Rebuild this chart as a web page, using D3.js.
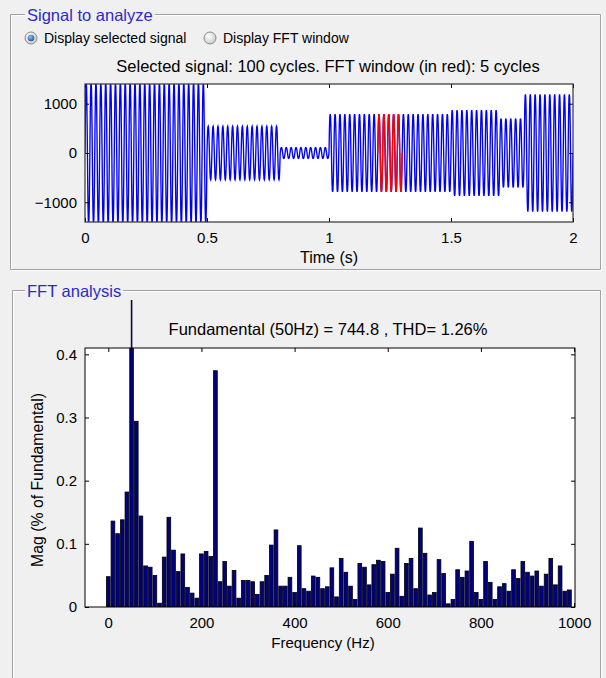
<!DOCTYPE html>
<html><head><meta charset="utf-8">
<script src="https://cdn.jsdelivr.net/npm/d3@7/dist/d3.min.js"></script>
<style>
html,body{margin:0;padding:0;background:#f0f0f0;}
svg{display:block;font-family:"Liberation Sans",Arial,sans-serif;}
</style></head>
<body>
<svg id="chart" width="606" height="678"></svg>
<script>
// ---------------- DATA ----------------
const signalTitle = "Selected signal: 100 cycles. FFT window (in red): 5 cycles";
const fftTitle = "Fundamental (50Hz) = 744.8 , THD= 1.26%";
const timeTicks = [0, 0.5, 1, 1.5, 2];
const signalTicks = [-1000, 0, 1000];
const freqTicks = [0, 200, 400, 600, 800, 1000];
const magTicks = [0, 0.1, 0.2, 0.3, 0.4];
// one cycle of the waveform (normalised samples)
const cycleShape = [0, 0.45, 0.8, 0.97, 1, 0.95, 0.75, 0.4, 0, -0.45, -0.8, -0.97, -1, -0.95, -0.75, -0.4];
// peak value of each of the 100 cycles (50 Hz, 0..2 s)
const cyclePeaks = [
 1420,1420,1420,1420,1420,1420,1420,1420,1420,1420,1420,1420,1420,1420,1420,1420,1420,1420,1420,1420,1420,1420,1420,1420,1420,
 540,540,540,540,540,540,540,540,540,540,540,540,540,540,540,
 110,110,110,110,110,110,110,110,110,110,
 790,790,790,790,790,790,790,790,790,790,790,790,790,790,790,790,790,790,790,790,790,790,790,790,790,
 870,870,870,870,870,870,870,870,870,870,
 700,700,700,700,700,
 1190,1190,1190,1190,1190,1190,1190,1190,1190,1190
];
const fftWindowCycles = [60, 65]; // first cycle, end cycle (exclusive) shown in red
const cycleSeconds = [0.02];
// FFT bins (Hz) and magnitudes (% of fundamental)
const fftFreqs = [0,10,20,30,40,50,60,70,80,90,100,110,120,130,140,150,160,170,180,190,
 200,210,220,230,240,250,260,270,280,290,300,310,320,330,340,350,360,370,380,390,
 400,410,420,430,440,450,460,470,480,490,500,510,520,530,540,550,560,570,580,590,
 600,610,620,630,640,650,660,670,680,690,700,710,720,730,740,750,760,770,780,790,
 800,810,820,830,840,850,860,870,880,890,900,910,920,930,940,950,960,970,980,990];
const fftMags = [0.048,0.136,0.116,0.138,0.182,100,0.294,0.144,0.065,0.063,
 0.050,0.006,0.079,0.142,0.090,0.056,0.084,0.031,0.022,0.014,
 0.084,0.088,0.080,0.374,0.040,0.072,0.033,0.058,0.014,0.042,
 0.042,0.040,0.020,0.040,0.050,0.098,0.122,0.033,0.033,0.047,
 0.023,0.097,0.029,0.025,0.049,0.047,0.029,0.032,0.062,0.016,
 0.077,0.055,0.033,0.012,0.069,0.063,0.035,0.067,0.074,0.072,
 0.023,0.052,0.093,0.017,0.069,0.077,0.029,0.125,0.085,0.019,
 0.023,0.075,0.053,0.005,0.012,0.059,0.047,0.057,0.104,0.023,
 0.012,0.072,0.039,0.012,0.032,0.037,0.025,0.059,0.045,0.072,
 0.055,0.049,0.057,0.033,0.052,0.077,0.035,0.065,0.025,0.027];

// ---------------- DRAW ----------------
const svg = d3.select("#chart");
const FONT = 15;
const TFONT = 16.5;
const bg = "#f0f0f0";

function panel(x, y, w, h, title, titleX, openBottom) {
  const g = svg.append("g");
  const path = (dx) => {
    const p = d3.path();
    if (openBottom) {
      p.moveTo(x + dx, y + h); p.lineTo(x + dx, y + dx); p.lineTo(x + w + dx, y + dx); p.lineTo(x + w + dx, y + h);
    } else {
      p.rect(x + dx, y + dx, w, h);
    }
    return p.toString();
  };
  g.append("path").attr("d", path(1)).attr("fill", "none").attr("stroke", "#ffffff");
  g.append("path").attr("d", path(0)).attr("fill", "none").attr("stroke", "#a0a0a0");
  const t = g.append("text").attr("x", titleX).attr("y", y + 6)
    .attr("font-size", 16.5).attr("fill", "#2b2bc8").text(title);
  const bb = t.node().getBBox();
  g.insert("rect", "text").attr("x", bb.x - 2).attr("y", bb.y).attr("width", bb.width + 4)
    .attr("height", bb.height).attr("fill", bg);
}

panel(10.5, 14.5, 590, 255, "Signal to analyze", 27, false);
panel(12.5, 290.5, 588, 400, "FFT analysis", 27, true);

// radio buttons
const defs = svg.append("defs");
const rg = defs.append("radialGradient").attr("id", "rb").attr("cx", "40%").attr("cy", "35%").attr("r", "70%");
rg.append("stop").attr("offset", "0%").attr("stop-color", "#ffffff");
rg.append("stop").attr("offset", "100%").attr("stop-color", "#c8c8c8");
const dg = defs.append("radialGradient").attr("id", "rd").attr("cx", "40%").attr("cy", "35%").attr("r", "70%");
dg.append("stop").attr("offset", "0%").attr("stop-color", "#8fc8f0");
dg.append("stop").attr("offset", "100%").attr("stop-color", "#1a4f9a");
const radios = [{x: 31, label: "Display selected signal", on: true}, {x: 210, label: "Display FFT window", on: false}];
radios.forEach(r => {
  svg.append("circle").attr("cx", r.x).attr("cy", 38).attr("r", 6).attr("fill", "url(#rb)").attr("stroke", "#8a8a8a");
  if (r.on) svg.append("circle").attr("cx", r.x).attr("cy", 38).attr("r", 3.3).attr("fill", "url(#rd)");
  svg.append("text").attr("x", r.x + 13).attr("y", 43).attr("font-size", 14).attr("fill", "#000").text(r.label);
});

// ---------- signal plot ----------
const sx = d3.scaleLinear().domain([0, 2]).range([85, 573]);
const sy = d3.scaleLinear().domain([-1400, 1400]).range([222, 84]);

svg.append("text").attr("x", 328).attr("y", 72).attr("text-anchor", "middle").attr("font-size", TFONT).text(signalTitle);

svg.append("rect").attr("x", 85).attr("y", 84).attr("width", 488).attr("height", 138).attr("fill", "#fff");
defs.append("clipPath").attr("id", "clipS").append("rect").attr("x", 85).attr("y", 84).attr("width", 488).attr("height", 138);

const T = cycleSeconds[0];
function cyclePoints(c0, c1) {
  const pts = [];
  for (let c = c0; c < c1; c++) {
    cycleShape.forEach((v, k) => pts.push([(c + k / cycleShape.length) * T, v * cyclePeaks[c]]));
  }
  pts.push([c1 * T, cycleShape[0] * cyclePeaks[c1 - 1]]);
  return pts;
}
const line = d3.line().x(d => sx(d[0])).y(d => sy(d[1]));
const gs = svg.append("g").attr("clip-path", "url(#clipS)");
gs.append("path").attr("d", line(cyclePoints(0, cyclePeaks.length))).attr("fill", "none")
  .attr("stroke", "#0000ff").attr("stroke-width", 1.35);
gs.append("path").attr("d", line(cyclePoints(fftWindowCycles[0], fftWindowCycles[1]))).attr("fill", "none")
  .attr("stroke", "#ff0000").attr("stroke-width", 1.35);

function boxAxes(xs, ys, xt, yt, xfmt, yfmt, top, bottom, left, right) {
  const g = svg.append("g").attr("font-size", FONT);
  g.append("g").attr("transform", `translate(0,${bottom})`)
    .call(d3.axisBottom(xs).tickValues(xt).tickSizeInner(-4).tickSizeOuter(0).tickPadding(10).tickFormat(xfmt));
  g.append("g").attr("transform", `translate(0,${top})`)
    .call(d3.axisTop(xs).tickValues(xt).tickSizeInner(-4).tickSizeOuter(0).tickFormat(""));
  g.append("g").attr("transform", `translate(${left},0)`)
    .call(d3.axisLeft(ys).tickValues(yt).tickSizeInner(-4).tickSizeOuter(0).tickPadding(8).tickFormat(yfmt));
  g.append("g").attr("transform", `translate(${right},0)`)
    .call(d3.axisRight(ys).tickValues(yt).tickSizeInner(-4).tickSizeOuter(0).tickFormat(""));
  g.selectAll(".domain").remove();
  g.selectAll("text").attr("font-family", "Liberation Sans, Arial, sans-serif").attr("font-size", FONT).attr("fill", "#000");
  g.selectAll(".tick line").attr("stroke", "#000");
  g.append("rect").attr("x", left).attr("y", top).attr("width", right - left).attr("height", bottom - top)
    .attr("fill", "none").attr("stroke", "#000").attr("stroke-width", 1);
  return g;
}
const gsa = boxAxes(sx, sy, timeTicks, signalTicks, d3.format("~g"), d3.format("d"), 84, 222, 85, 573);
gsa.select("rect").attr("stroke", "#333").attr("stroke-width", 1.2);
svg.append("text").attr("x", 329).attr("y", 263).attr("text-anchor", "middle").attr("font-size", 16).text("Time (s)");

// ---------- FFT plot ----------
const fx = d3.scaleLinear().domain([-50, 1002]).range([85, 575]);
const fy = d3.scaleLinear().domain([0, 0.41]).range([607, 348]);

svg.append("text").attr("x", 328).attr("y", 335).attr("text-anchor", "middle").attr("font-size", TFONT).text(fftTitle);
svg.append("rect").attr("x", 85).attr("y", 348).attr("width", 490).attr("height", 259).attr("fill", "#fff");
defs.append("clipPath").attr("id", "clipF").append("rect").attr("x", 85).attr("y", 348).attr("width", 490).attr("height", 259);
defs.append("clipPath").attr("id", "clipP").append("rect").attr("x", 13).attr("y", 300).attr("width", 587).attr("height", 378);

const bw = fx(8) - fx(0);
svg.append("g").attr("clip-path", "url(#clipF)")
  .selectAll("rect").data(fftFreqs).join("rect")
  .attr("x", (d) => fx(d) - bw / 2)
  .attr("y", (d, i) => fy(fftMags[i]))
  .attr("width", bw)
  .attr("height", (d, i) => fy(0) - fy(fftMags[i]))
  .attr("fill", "#000080").attr("stroke", "#000").attr("stroke-width", 0.8);
// bars taller than the axes spill out as a thin dark line (as in the original figure)
const over = fftFreqs.filter((d, i) => fftMags[i] > fy.domain()[1]);
svg.append("g").attr("clip-path", "url(#clipP)")
  .selectAll("line").data(over).join("line")
  .attr("x1", d => fx(d)).attr("x2", d => fx(d))
  .attr("y1", fy.range()[1] + 1).attr("y2", d => fy(fftMags[fftFreqs.indexOf(d)]))
  .attr("stroke", "#0a0a30").attr("stroke-width", 1.6);

boxAxes(fx, fy, freqTicks, magTicks, d3.format("d"), d3.format("~g"), 348, 607, 85, 575);
svg.append("text").attr("x", 323).attr("y", 648).attr("text-anchor", "middle").attr("font-size", FONT).text("Frequency (Hz)");
svg.append("text").attr("transform", "translate(43,480) rotate(-90)").attr("text-anchor", "middle")
  .attr("font-size", 15.8).text("Mag (% of Fundamental)");
</script>
</body></html>
